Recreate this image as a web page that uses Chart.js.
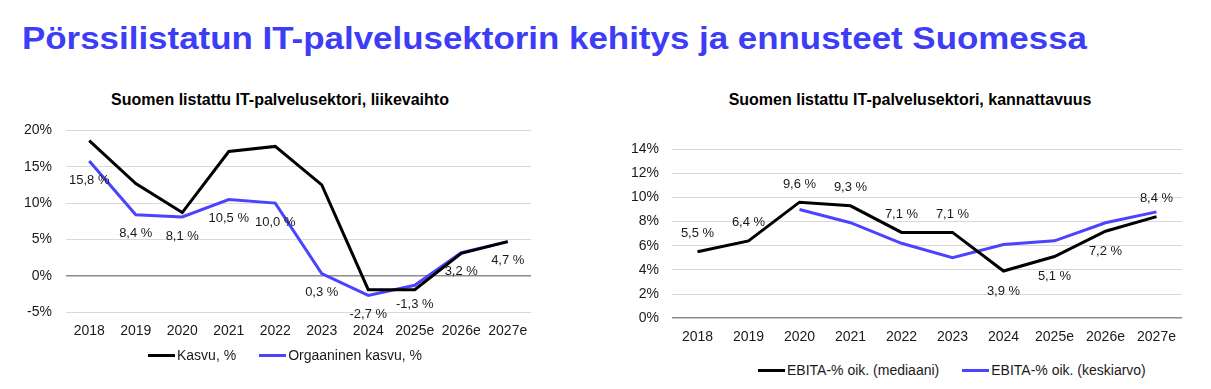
<!DOCTYPE html>
<html>
<head>
<meta charset="utf-8">
<script src="https://cdn.jsdelivr.net/npm/chart.js@4.4.1/dist/chart.umd.min.js"></script>
<style>
  html, body { margin: 0; padding: 0; background: #fff; }
  body { width: 1211px; height: 389px; position: relative; overflow: hidden; font-family: "Liberation Sans", Arial, sans-serif; }
  #mainTitle { position: absolute; left: 22px; top: 21px; font-size: 31px; font-weight: bold; color: #3d3df5; white-space: nowrap; transform-origin: 0 0; }
  .subTitle { position: absolute; top: 91px; font-size: 16px; font-weight: bold; color: #000; white-space: nowrap; text-align: center; }
  .chartBox { position: absolute; }
  .legend { position: absolute; display: flex; align-items: center; font-size: 14px; color: #1a1a1a; white-space: nowrap; height: 20px; }
  .legend .item { display: flex; align-items: center; margin-right: 23px; }
  .legend .swatch { display: inline-block; width: 27px; height: 3px; margin-right: 2px; }
</style>
</head>
<body>
<div id="mainTitle">Pörssilistatun IT-palvelusektorin kehitys ja ennusteet Suomessa</div>
<div class="subTitle" style="left:0; width:560px;">Suomen listattu IT-palvelusektori, liikevaihto</div>
<div class="subTitle" style="left:600px; width:620px;">Suomen listattu IT-palvelusektori, kannattavuus</div>
<div class="chartBox" style="left:0; top:108px; width:560px; height:245px;"><canvas id="leftChart"></canvas></div>
<div class="chartBox" style="left:600px; top:110px; width:611px; height:249px;"><canvas id="rightChart"></canvas></div>
<div class="legend" id="leftLegend" style="left:148px; top:345px;"></div>
<div class="legend" id="rightLegend" style="left:758px; top:360px;"></div>
<script>
// ---- data ----
const years = ['2018', '2019', '2020', '2021', '2022', '2023', '2024', '2025e', '2026e', '2027e'];

const kasvu = [18.6, 12.7, 8.7, 17.1, 17.8, 12.5, -1.9, -1.9, 3.1, 4.7];
const orgaaninenKasvu = [15.8, 8.4, 8.1, 10.5, 10.0, 0.3, -2.7, -1.3, 3.2, 4.7];

const ebitaMediaani = [5.5, 6.4, 9.6, 9.3, 7.1, 7.1, 3.9, 5.1, 7.2, 8.4];
const ebitaKeskiarvo = [null, null, 9.0, 7.9, 6.2, 5.0, 6.1, 6.4, 7.9, 8.8];

const leftTicks = [-5, 0, 5, 10, 15, 20];
const rightTicks = [0, 2, 4, 6, 8, 10, 12, 14];

const BLACK = '#000000';
const BLUE = '#4a44ff';
const TEXT = '#1a1a1a';
const FONT = "'Liberation Sans', Arial, sans-serif";

Chart.defaults.font.family = FONT;
Chart.defaults.font.size = 13;
Chart.defaults.color = TEXT;

// stretch the page title to the width seen in the reference
const titleEl = document.getElementById('mainTitle');
const titleW = titleEl.getBoundingClientRect().width;
titleEl.style.transform = 'scaleX(' + (1065 / titleW) + ')';

const fmt = v => v.toFixed(1).replace('.', ',') + ' %';

// value labels next to the points of one dataset
const valueLabels = {
  id: 'valueLabels',
  afterDatasetsDraw(chart, args, opts) {
    const ctx = chart.ctx;
    const meta = chart.getDatasetMeta(opts.dataset);
    const values = chart.data.datasets[opts.dataset].data;
    ctx.save();
    ctx.font = '13px ' + FONT;
    ctx.fillStyle = TEXT;
    ctx.textAlign = 'center';
    ctx.textBaseline = 'middle';
    meta.data.forEach((pt, i) => {
      if (values[i] == null) return;
      const dy = opts.place[i] === 'b' ? opts.below : -opts.above;
      ctx.fillText(fmt(values[i]), pt.x, pt.y + dy);
    });
    ctx.restore();
  }
};

function gridColor(ctx) {
  return ctx.tick && ctx.tick.value === 0 ? '#8c8c8c' : '#d9d9d9';
}
function gridWidth(ctx) {
  return ctx.tick && ctx.tick.value === 0 ? 1.6 : 1;
}

// legend built from the chart's own datasets
function buildLegend(chart, elId) {
  const el = document.getElementById(elId);
  chart.data.datasets.forEach(ds => {
    const item = document.createElement('span');
    item.className = 'item';
    const sw = document.createElement('span');
    sw.className = 'swatch';
    sw.style.background = ds.borderColor;
    item.appendChild(sw);
    item.appendChild(document.createTextNode(ds.label));
    el.appendChild(item);
  });
}

function makeChart(id, cfg) {
  return new Chart(document.getElementById(id), {
    type: 'line',
    data: {
      labels: years,
      datasets: cfg.series.map(s => ({
        label: s.label,
        data: s.data,
        borderColor: s.color,
        backgroundColor: s.color,
        borderWidth: 3,
        pointRadius: 0,
        tension: 0
      }))
    },
    options: {
      responsive: true,
      maintainAspectRatio: false,
      animation: false,
      layout: { padding: cfg.padding },
      plugins: {
        tooltip: { enabled: false },
        legend: { display: false },
        valueLabels: cfg.labels
      },
      scales: {
        x: {
          offset: true,
          grid: { display: false, drawTicks: false },
          border: { display: false },
          ticks: { color: TEXT, font: { size: 14 }, padding: cfg.xPad, maxRotation: 0 }
        },
        y: {
          min: cfg.ticks[0],
          max: cfg.ticks[cfg.ticks.length - 1],
          afterBuildTicks: axis => { axis.ticks = cfg.ticks.map(v => ({ value: v })); },
          afterFit: axis => { axis.width = cfg.yWidth; },
          grid: { color: gridColor, lineWidth: gridWidth, drawTicks: false },
          border: { display: false },
          ticks: {
            color: TEXT,
            font: { size: 14 },
            padding: cfg.yPad,
            callback: v => v + '%'
          }
        }
      }
    },
    plugins: [valueLabels]
  });
}

const leftChart = makeChart('leftChart', {
  series: [
    { label: 'Kasvu, %', data: kasvu, color: BLACK },
    { label: 'Orgaaninen kasvu, %', data: orgaaninenKasvu, color: BLUE }
  ],
  ticks: leftTicks,
  yWidth: 66,
  yPad: 14,
  xPad: 11,
  padding: { top: 15, right: 29, left: 0, bottom: 2 },
  labels: {
    dataset: 1,
    place: ['b', 'b', 'b', 'b', 'b', 'b', 'b', 'b', 'b', 'b'],
    below: 19,
    above: 18
  }
});

const rightChart = makeChart('rightChart', {
  series: [
    { label: 'EBITA-% oik. (mediaani)', data: ebitaMediaani, color: BLACK },
    { label: 'EBITA-% oik. (keskiarvo)', data: ebitaKeskiarvo, color: BLUE }
  ],
  ticks: rightTicks,
  yWidth: 72,
  yPad: 13,
  xPad: 11,
  padding: { top: 39, right: 29, left: 0, bottom: 2 },
  labels: {
    dataset: 0,
    place: ['a', 'a', 'a', 'a', 'a', 'a', 'b', 'b', 'b', 'a'],
    below: 20,
    above: 18
  }
});

buildLegend(leftChart, 'leftLegend');
buildLegend(rightChart, 'rightLegend');
</script>
</body>
</html>
